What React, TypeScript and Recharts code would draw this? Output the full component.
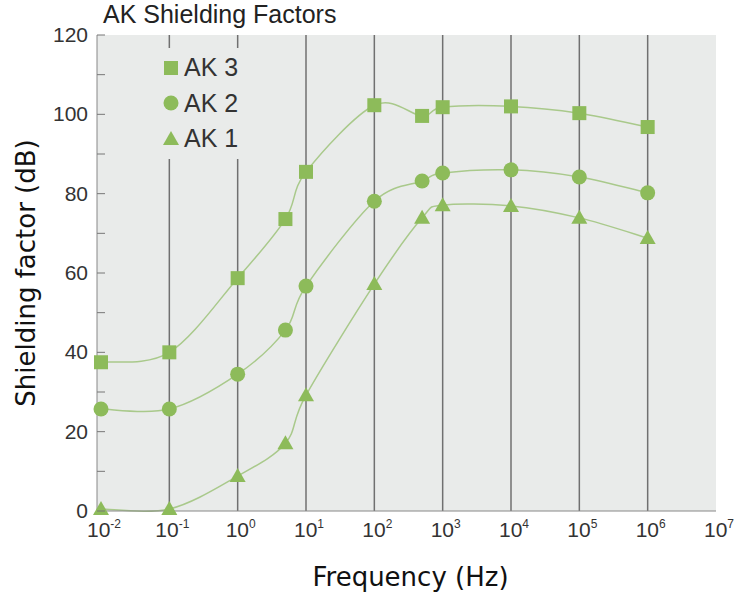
import { CartesianGrid, Legend, Line, LineChart, ReferenceLine, XAxis, YAxis } from "recharts";

const frequencies = [0.01, 0.1, 1, 5, 10, 100, 500, 1000, 10000, 100000, 1000000];
const ak3 = [37.5, 40, 58.7, 73.6, 85.5, 102.3, 99.6, 101.8, 102, 100.3, 96.8];
const ak2 = [25.7, 25.7, 34.5, 45.6, 56.7, 78.1, 83.2, 85.2, 86, 84.2, 80.2];
const ak1 = [0.5, 0.5, 8.8, 17.1, 29.2, 57.2, 73.9, 77.1, 76.9, 73.9, 68.8];

const xTicks = [0.01, 0.1, 1, 10, 100, 1000, 10000, 100000, 1000000, 10000000];
const xExponents = ["-2", "-1", "0", "1", "2", "3", "4", "5", "6", "7"];
const gridFreqs = [0.1, 1, 10, 100, 1000, 10000, 100000, 1000000];
const yTicks = [0, 10, 20, 30, 40, 50, 60, 70, 80, 90, 100, 110, 120];

const series = [
  { key: "ak3", name: "AK 3", shape: "square" },
  { key: "ak2", name: "AK 2", shape: "circle" },
  { key: "ak1", name: "AK 1", shape: "triangle" }
];

const data = frequencies.map((f, i) => ({ f, ak3: ak3[i], ak2: ak2[i], ak1: ak1[i] }));

const GREEN = "#8dbb5a";
const LINE = "#a9c98b";
const BG = "#e9ebea";
const TICK_FONT = "'Liberation Sans', Arial, sans-serif";
const LABEL_FONT = "'DejaVu Sans', sans-serif";

// Catmull-Rom style smoothing (softer than "natural", no big overshoot)
function smoothCurve(context: any) {
  let pts: number[][] = [];
  return {
    areaStart() {},
    areaEnd() {},
    lineStart() {
      pts = [];
    },
    point(x: number, y: number) {
      pts.push([+x, +y]);
    },
    lineEnd() {
      const n = pts.length;
      if (!n) return;
      context.moveTo(pts[0][0], pts[0][1]);
      for (let i = 0; i < n - 1; i++) {
        const p0 = pts[Math.max(i - 1, 0)];
        const p1 = pts[i];
        const p2 = pts[i + 1];
        const p3 = pts[Math.min(i + 2, n - 1)];
        context.bezierCurveTo(
          p1[0] + (p2[0] - p0[0]) / 6,
          p1[1] + (p2[1] - p0[1]) / 6,
          p2[0] - (p3[0] - p1[0]) / 6,
          p2[1] - (p3[1] - p1[1]) / 6,
          p2[0],
          p2[1]
        );
      }
    }
  };
}

function Marker({ cx, cy, shape }: { cx: number; cy: number; shape: string }) {
  if (cx == null || cy == null) return null;
  if (shape === "square") return <rect x={cx - 7} y={cy - 7} width={14} height={14} fill={GREEN} />;
  if (shape === "circle") return <circle cx={cx} cy={cy} r={7.5} fill={GREEN} />;
  return <polygon points={`${cx},${cy - 8} ${cx - 8},${cy + 6} ${cx + 8},${cy + 6}`} fill={GREEN} />;
}

function XTick({ x, y, payload, index }: any) {
  const i = xTicks.indexOf(payload.value);
  const exp = xExponents[i >= 0 ? i : index];
  return (
    <text x={x + 3} y={y + 20} textAnchor="middle" fontSize={21} fill="#333" fontFamily={TICK_FONT}>
      <tspan>10</tspan>
      <tspan dy={-9} fontSize={12}>{exp}</tspan>
    </text>
  );
}

function YTick({ x, y, payload }: any) {
  const v = payload.value;
  return (
    <g>
      <line x1={x + 9} x2={x + 17} y1={y} y2={y} stroke="#777" strokeWidth={1} />
      {v % 20 === 0 && (
        <text x={x} y={y + 7} textAnchor="end" fontSize={21} fill="#333" fontFamily={TICK_FONT}>
          {v}
        </text>
      )}
    </g>
  );
}

function LegendBox() {
  return (
    <div style={{ background: BG, padding: "2px 8px 2px 12px", fontFamily: TICK_FONT }}>
      {series.map((s) => (
        <div key={s.key} style={{ display: "flex", alignItems: "center", height: 35.5 }}>
          <svg width={18} height={18} style={{ marginRight: 4 }}>
            <Marker cx={9} cy={9} shape={s.shape} />
          </svg>
          <span style={{ fontSize: 25, color: "#333" }}>{s.name}</span>
        </div>
      ))}
    </div>
  );
}

export default function App() {
  return (
    <div style={{ position: "absolute", left: 0, top: 0, width: 735, height: 594, background: "#fff" }}>
      <div
        style={{
          position: "absolute",
          left: 103,
          top: 0,
          fontSize: 25,
          lineHeight: "28px",
          color: "#222",
          fontFamily: TICK_FONT
        }}
      >
        AK Shielding Factors
      </div>
      <LineChart width={735} height={594} data={data} margin={{ top: 35, right: 19, bottom: 0, left: 0 }}>
        <CartesianGrid horizontal={false} vertical={false} fill={BG} fillOpacity={1} stroke="none" />
        <XAxis
          dataKey="f"
          type="number"
          scale="log"
          domain={[0.01, 10000000]}
          ticks={xTicks}
          interval={0}
          padding={{ left: 4, right: 0 }}
          height={83}
          tickSize={0}
          tickMargin={6}
          tick={<XTick />}
          stroke="#888"
          label={{
            content: ({ viewBox }: any) => (
              <text
                x={viewBox.x + viewBox.width / 2 + 4}
                y={586}
                textAnchor="middle"
                fontSize={26}
                fill="#111"
                fontFamily={LABEL_FONT}
              >
                Frequency (Hz)
              </text>
            )
          }}
        />
        <YAxis
          type="number"
          domain={[0, 120]}
          ticks={yTicks}
          width={97}
          tickSize={0}
          tickMargin={9}
          tick={<YTick />}
          stroke="#888"
          interval={0}
          label={{
            content: ({ viewBox }: any) => {
              const cy = viewBox.y + viewBox.height / 2;
              return (
                <text
                  x={35}
                  y={cy}
                  transform={`rotate(-90, 35, ${cy})`}
                  textAnchor="middle"
                  fontSize={26}
                  fill="#111"
                  fontFamily={LABEL_FONT}
                >
                  Shielding factor (dB)
                </text>
              );
            }
          }}
        />
        {gridFreqs.map((g) => (
          <ReferenceLine key={g} x={g} stroke="#707070" strokeWidth={1.5} />
        ))}
        {series.map((s) => (
          <Line
            key={s.key}
            dataKey={s.key}
            name={s.name}
            type={smoothCurve as any}
            stroke={LINE}
            strokeWidth={1.5}
            isAnimationActive={false}
            dot={(p: any) => <Marker key={`${s.key}-${p.index}`} cx={p.cx} cy={p.cy} shape={s.shape} />}
            activeDot={false}
          />
        ))}
        <Legend
          layout="vertical"
          align="center"
          verticalAlign="middle"
          content={() => <LegendBox />}
          wrapperStyle={{ position: "absolute", left: 150, top: 48, width: "auto" }}
        />
      </LineChart>
    </div>
  );
}
